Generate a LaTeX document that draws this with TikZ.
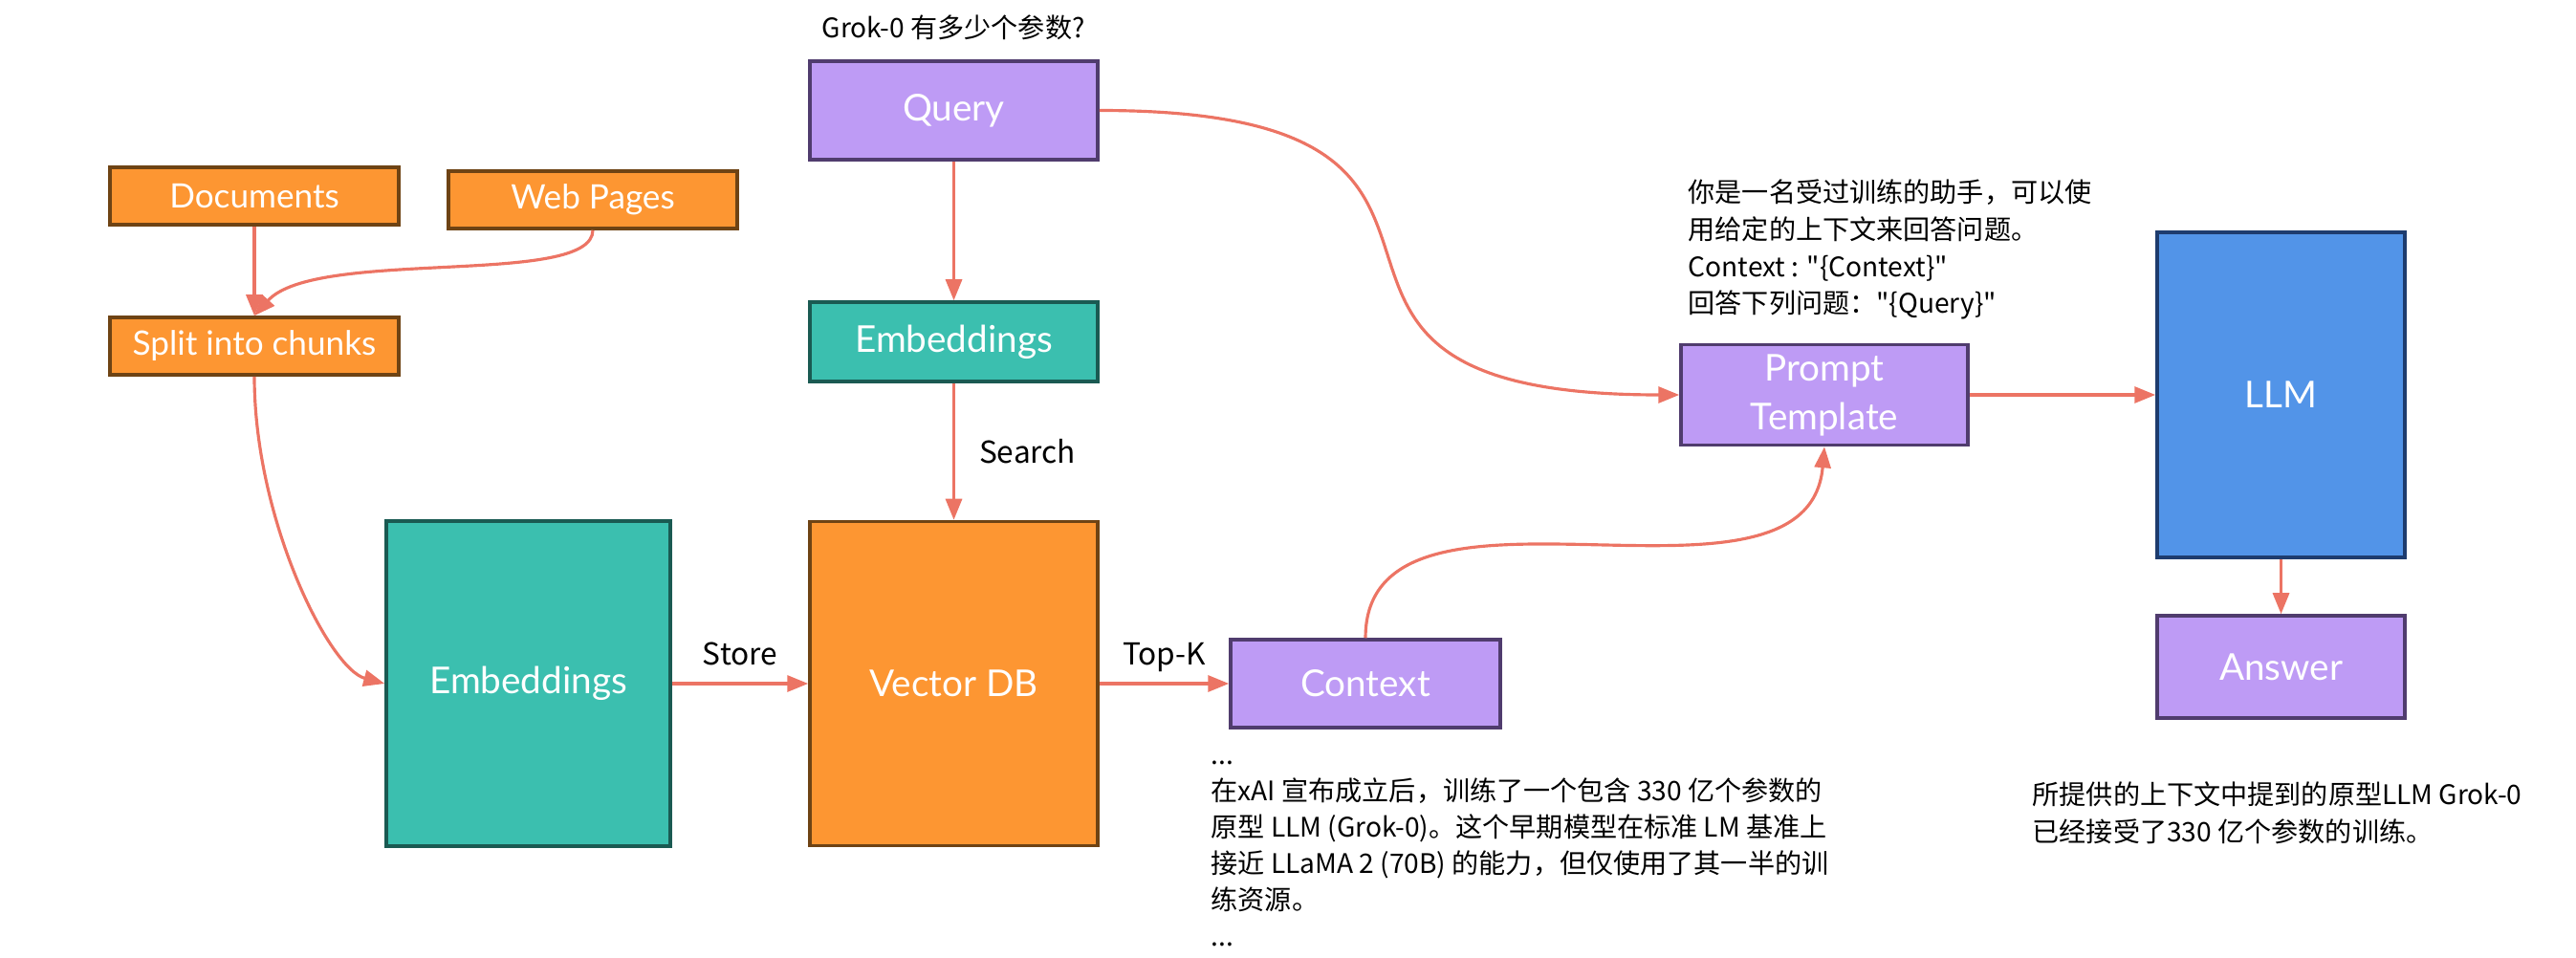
\documentclass[tikz,border=0pt]{standalone}
\usepackage{fontspec}
\setmainfont{Lato}
\newfontfamily\cjk{Noto Sans CJK SC}
\usetikzlibrary{arrows.meta}

\definecolor{orangefill}{HTML}{FD9632}
\definecolor{orangeline}{HTML}{6E4314}
\definecolor{tealfill}{HTML}{3BBFAF}
\definecolor{tealline}{HTML}{1A5A52}
\definecolor{purplefill}{HTML}{BE9BF5}
\definecolor{purpleline}{HTML}{503C6E}
\definecolor{bluefill}{HTML}{5294E8}
\definecolor{blueline}{HTML}{1E3C6E}
\definecolor{linkcol}{HTML}{EC7464}

\begin{document}
\begin{tikzpicture}[
  box/.style={draw, line width=1pt, text=white, inner sep=0pt, align=center,
    font=\fontsize{11}{14.5}\selectfont},
  srcbox/.style={box, fill=orangefill, draw=orangeline, minimum width=3.02cm,
    minimum height=0.6cm, font=\fontsize{10}{12}\selectfont},
  dbbox/.style={box, fill=orangefill, draw=orangeline},
  embbox/.style={box, fill=tealfill, draw=tealline},
  qbox/.style={box, fill=purplefill, draw=purpleline},
  llmbox/.style={box, fill=bluefill, draw=blueline},
  link/.style={draw=linkcol, line width=0.9pt, -{Triangle[length=0.22cm,width=0.17cm]}},
  lbl/.style={font=\cjk\fontsize{9}{11}\selectfont, inner sep=0pt},
  note/.style={font=\cjk\fontsize{8}{11}\selectfont, align=left, inner sep=0pt,
    anchor=north west}
]
\useasboundingbox (0,0) rectangle (26.94,-10.02);

% boxes
\node[srcbox] (docs) at (2.66,-2.05) {Documents};
\node[srcbox] (web) at (6.20,-2.09) {Web Pages};
\node[srcbox] (split) at (2.66,-3.62) {Split into chunks};
\node[embbox, minimum width=2.97cm, minimum height=3.40cm] (emb) at (5.525,-7.15) {Embeddings};
\node[dbbox, minimum width=3.01cm, minimum height=3.39cm] (vdb) at (9.975,-7.15) {Vector DB};
\node[qbox, minimum width=3.01cm, minimum height=1.03cm] (query) at (9.975,-1.155) {Query};
\node[embbox, minimum width=3.01cm, minimum height=0.83cm] (qemb) at (9.975,-3.575) {Embeddings};
\node[qbox, minimum width=2.82cm, minimum height=0.92cm] (ctx) at (14.28,-7.15) {Context};
\node[qbox, minimum width=3.0cm, minimum height=1.05cm] (prompt) at (19.08,-4.13) {Prompt\\Template};
\node[llmbox, minimum width=2.59cm, minimum height=3.40cm] (llm) at (23.855,-4.13) {LLM};
\node[qbox, minimum width=2.59cm, minimum height=1.07cm] (answer) at (23.855,-6.975) {Answer};

% texts
\node[lbl, anchor=base west, font=\cjk\fontsize{8}{11}\selectfont] (question) at (8.59,-0.40) {Grok-0 有多少个参数?};
\node[note] (template) at (17.65,-1.84) {\strut 你是一名受过训练的助手，可以使\\
用给定的上下文来回答问题。\\
Context : "\{Context\}"\\
回答下列问题："\{Query\}"};
\node[note, font=\cjk\fontsize{8}{10.8}\selectfont] (chunks) at (12.66,-7.72) {\strut ...\\
在xAI 宣布成立后，训练了一个包含 330 亿个参数的\\
原型 LLM (Grok-0)。这个早期模型在标准 LM 基准上\\
接近 LLaMA 2 (70B) 的能力，但仅使用了其一半的训\\
练资源。\\
...};
\node[note] (reply) at (21.25,-8.14) {\strut 所提供的上下文中提到的原型LLM Grok-0\\
已经接受了330 亿个参数的训练。};

% links
\draw[link] (docs) -- (split);
\draw[link] (web.south) to[out=-90, in=48, out distance=0.6cm, in distance=0.96cm] (split.north);
\draw[link] (split.south) to[out=-90, in=165, out distance=1.5cm, in distance=0.6cm] (emb.west);
\draw[link] (emb) -- node[lbl, midway, anchor=base, yshift=0.2cm] {Store} (vdb);
\draw[link] (query) -- (qemb);
\draw[link] (qemb) -- node[lbl, midway, right=0.25cm] {Search} (vdb);
\draw[link] (vdb) -- node[lbl, midway, anchor=base, yshift=0.2cm] {Top-K} (ctx);
\draw[link] (ctx.north) to[out=90, in=-95, distance=2cm] (prompt.south);
\draw[link] (query.east) to[out=0, in=180, distance=5cm] (prompt.west);
\draw[link] (prompt) -- (llm);
\draw[link] (llm) -- (answer);

\end{tikzpicture}
\end{document}
